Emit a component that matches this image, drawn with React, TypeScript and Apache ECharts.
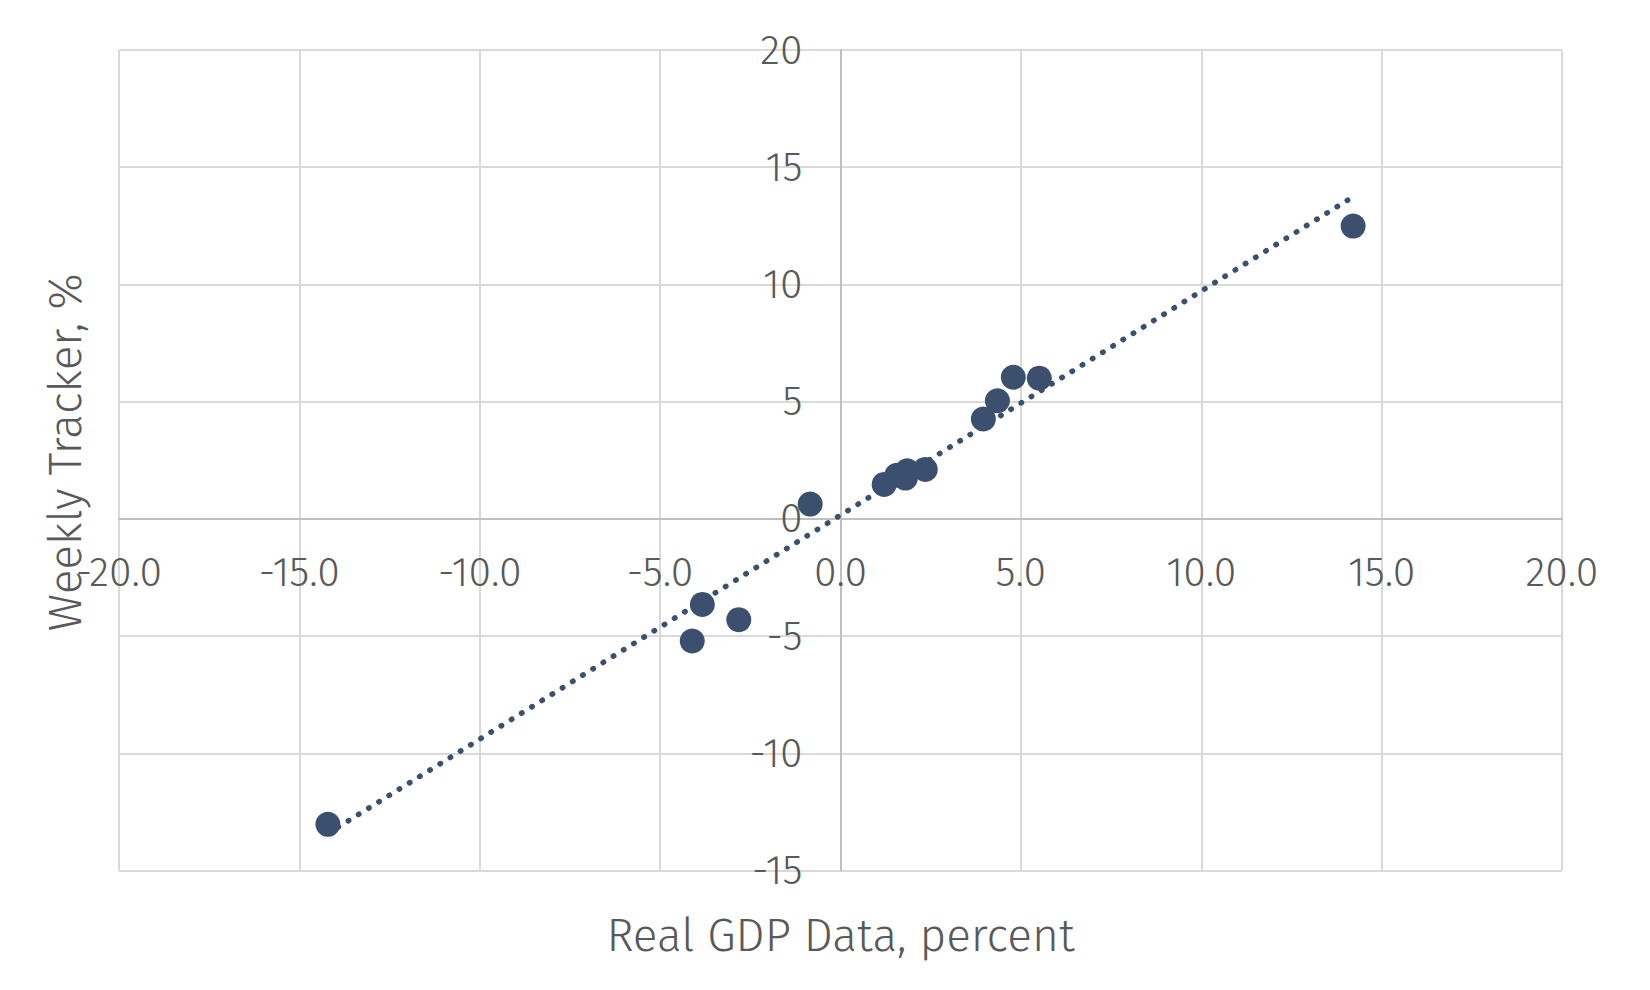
import * as echarts from "echarts";
import React, { useEffect, useRef } from "react";

// Real GDP data (x) against the weekly tracker (y), both in percent
const gdpValues = [-14.21, -4.11, -3.83, -2.82, -0.84, 1.21, 1.56, 1.8, 1.85, 2.35, 3.96, 4.35, 4.79, 5.51, 14.21];
const trackerValues = [-13.03, -5.21, -3.65, -4.3, 0.63, 1.47, 1.86, 1.74, 2.05, 2.11, 4.26, 5.04, 6.04, 6.0, 12.49];

// linear trendline end points
const trendX = [-14.21, 14.21];
const trendY = [-13.42, 13.74];

const xAxisName = "Real GDP Data, percent";
const yAxisName = "Weekly Tracker, %";

const MARKER = "#3b4f6e";
const TEXT = "#595959";
const FONT = "'Fira Sans', 'Open Sans', sans-serif";

// plot box in pixels
const LEFT = 119;
const RIGHT = 1562;
const TOP = 50;
const BOTTOM = 870.5;

const App: React.FC = () => {
  const chartRef = useRef<HTMLDivElement | null>(null);

  useEffect(() => {
    const chart = echarts.init(chartRef.current, null, { renderer: "svg" });

    // axes cross at zero: shift them from the box edges
    const zeroX = LEFT + ((0 - -20) / 40) * (RIGHT - LEFT);
    const zeroY = TOP + ((20 - 0) / 35) * (BOTTOM - TOP);

    chart.setOption({
      animation: false,
      grid: {
        left: LEFT,
        right: 1650 - RIGHT,
        top: TOP,
        bottom: 990 - BOTTOM,
        outerBoundsMode: "none",
        containLabel: false,
      },
      xAxis: {
        type: "value",
        min: -20,
        max: 20,
        interval: 5,
        offset: -(BOTTOM - zeroY),
        name: xAxisName,
        nameLocation: "middle",
        nameGap: 394,
        nameTextStyle: { color: TEXT, fontSize: 46, fontFamily: FONT, fontWeight: 300 },
        axisLine: { onZero: false, lineStyle: { color: "#bfbfbf", width: 2 } },
        axisTick: { show: false },
        axisLabel: {
          color: TEXT,
          fontSize: 41,
          fontFamily: FONT,
          fontWeight: 300,
          margin: 33,
          formatter: (v: number) => v.toFixed(1),
        },
        splitLine: { lineStyle: { color: "#d9d9d9", width: 2 } },
      },
      yAxis: {
        type: "value",
        min: -15,
        max: 20,
        interval: 5,
        offset: -(zeroX - LEFT),
        name: yAxisName,
        nameLocation: "middle",
        nameGap: 752,
        nameTextStyle: {
          color: TEXT,
          fontSize: 46,
          fontFamily: FONT,
          fontWeight: 300,
          padding: [0, 0, 0, 16],
        },
        axisLine: { onZero: false, lineStyle: { color: "#bfbfbf", width: 2 } },
        axisTick: { show: false },
        axisLabel: {
          color: TEXT,
          fontSize: 41,
          fontFamily: FONT,
          fontWeight: 300,
          margin: 38,
        },
        splitLine: { lineStyle: { color: "#d9d9d9", width: 2 } },
      },
      series: [
        {
          type: "line",
          data: trendX.map((x, i) => [x, trendY[i]]),
          showSymbol: false,
          lineStyle: { color: MARKER, width: 5.5, type: [0.5, 11.5], cap: "round" },
          z: 2,
        },
        {
          type: "scatter",
          data: gdpValues.map((x, i) => [x, trackerValues[i]]),
          symbolSize: 25,
          itemStyle: { color: MARKER, opacity: 1 },
          z: 3,
        },
      ],
    });

    return () => {
      chart.dispose();
    };
  }, []);

  return (
    <div
      ref={chartRef}
      style={{ position: "absolute", left: 0, top: 0, width: 1650, height: 990 }}
    ></div>
  );
};

export default App;
